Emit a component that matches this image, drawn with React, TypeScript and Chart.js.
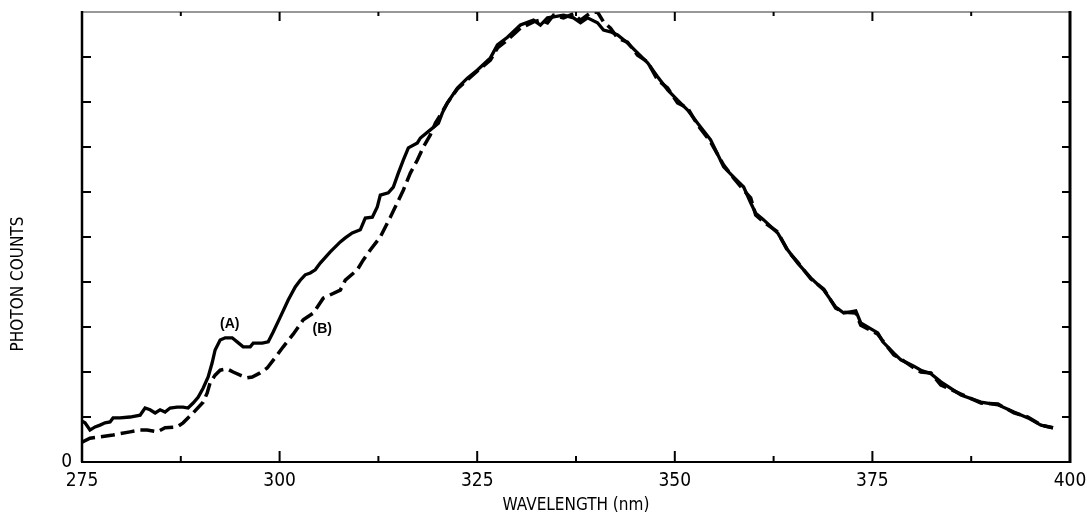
import React, { useEffect, useRef } from 'react';
import { Chart, registerables } from 'chart.js';

Chart.register(...registerables);

// Curve (A) – solid
const wavelengthA = [
  275.0, 275.38, 276.01, 276.65, 277.28, 277.91, 278.55, 278.93, 279.81, 281.08,
  282.35, 282.98, 283.61, 284.25, 284.88, 285.51, 286.14, 287.03, 287.79, 288.42,
  289.06, 289.69, 290.32, 290.96, 291.46, 291.84, 292.48, 293.11, 294.0, 294.63,
  295.39, 296.28, 296.66, 297.8, 298.56, 299.19, 300.08, 301.09, 301.98, 302.61,
  303.24, 303.88, 304.51, 305.14, 306.41, 307.68, 308.31, 309.19, 310.21, 310.84,
  311.73, 312.36, 312.74, 313.75, 314.39, 315.02, 315.65, 316.29, 317.43, 317.81,
  319.07, 320.09, 320.59, 321.23, 322.49, 323.76, 325.03, 326.67, 327.56, 328.83,
  330.47, 332.12, 333.0, 333.89, 334.65, 335.92, 337.18, 338.07, 338.96, 340.22,
  340.98, 341.87, 342.76, 344.02, 345.29, 346.56, 347.82, 349.09, 350.35, 351.62,
  352.89, 354.53, 356.18, 357.45, 358.71, 359.6, 360.23, 361.25, 363.02, 364.29,
  365.55, 367.2, 368.85, 370.36, 371.38, 372.9, 373.53, 375.68, 376.32, 377.71,
  378.6, 380.24, 381.13, 382.4, 383.66, 386.2, 388.73, 390.88, 392.91, 394.68,
  396.33, 397.85,
];
const countsA = [
  0.91, 0.87, 0.71, 0.78, 0.82, 0.87, 0.89, 0.98, 0.98, 1.0,
  1.04, 1.2, 1.16, 1.09, 1.16, 1.11, 1.2, 1.22, 1.22, 1.2,
  1.31, 1.44, 1.64, 1.89, 2.2, 2.49, 2.71, 2.76, 2.76, 2.67,
  2.56, 2.56, 2.64, 2.64, 2.67, 2.89, 3.22, 3.6, 3.89, 4.04,
  4.16, 4.2, 4.27, 4.42, 4.67, 4.89, 4.98, 5.09, 5.16, 5.42,
  5.44, 5.67, 5.93, 5.98, 6.11, 6.42, 6.71, 6.98, 7.09, 7.2,
  7.38, 7.53, 7.76, 7.98, 8.31, 8.53, 8.71, 8.98, 9.27, 9.44,
  9.71, 9.82, 9.71, 9.87, 9.89, 9.93, 9.87, 9.76, 9.87, 9.76,
  9.6, 9.56, 9.49, 9.31, 9.09, 8.87, 8.56, 8.27, 8.04, 7.82,
  7.53, 7.16, 6.56, 6.33, 6.11, 5.76, 5.53, 5.38, 5.09, 4.71,
  4.42, 4.09, 3.82, 3.44, 3.31, 3.36, 3.09, 2.87, 2.67, 2.42,
  2.27, 2.13, 2.04, 1.96, 1.78, 1.49, 1.33, 1.27, 1.11, 0.98,
  0.82, 0.76,
];

// Curve (B) – dashed
const wavelengthB = [
  275.0, 276.01, 277.28, 278.93, 281.08, 282.35, 283.23, 284.5, 285.51, 287.03,
  287.79, 289.06, 290.32, 290.83, 291.21, 291.84, 292.48, 293.36, 294.12, 295.01,
  295.9, 296.53, 297.54, 298.43, 299.7, 300.46, 301.72, 302.99, 304.26, 305.52,
  307.68, 308.31, 309.83, 310.59, 311.47, 312.74, 314.01, 314.89, 315.65, 316.54,
  317.43, 318.19, 319.07, 319.71, 320.34, 321.23, 322.49, 323.76, 325.03, 326.67,
  327.56, 328.83, 330.47, 332.12, 333.0, 333.89, 334.65, 335.92, 337.18, 338.07,
  339.33, 340.22, 340.98, 341.87, 342.76, 344.02, 345.29, 346.56, 347.82, 349.09,
  350.35, 351.62, 352.89, 354.53, 356.18, 357.45, 358.71, 359.6, 360.23, 361.25,
  363.02, 364.29, 365.55, 367.2, 368.85, 370.36, 371.38, 372.9, 373.53, 375.68,
  376.32, 377.71, 378.6, 380.24, 381.13, 382.4, 383.66, 386.2, 388.73, 390.88,
  392.91, 394.68, 396.33, 397.85,
];
const countsB = [
  0.44, 0.53, 0.56, 0.6, 0.67, 0.71, 0.71, 0.67, 0.76, 0.78,
  0.87, 1.09, 1.33, 1.53, 1.76, 1.93, 2.04, 2.07, 2.0, 1.93,
  1.87, 1.89, 1.98, 2.09, 2.38, 2.56, 2.84, 3.16, 3.31, 3.64,
  3.82, 4.04, 4.27, 4.49, 4.71, 5.0, 5.44, 5.76, 6.04, 6.42,
  6.71, 7.0, 7.27, 7.53, 7.71, 7.98, 8.29, 8.49, 8.69, 8.93,
  9.2, 9.38, 9.64, 9.78, 9.82, 9.76, 9.93, 9.87, 9.96, 9.82,
  9.98, 10.0, 9.78, 9.64, 9.42, 9.33, 9.04, 8.89, 8.49, 8.31,
  7.98, 7.87, 7.49, 7.11, 6.6, 6.31, 6.04, 5.87, 5.49, 5.33,
  5.11, 4.69, 4.44, 4.07, 3.84, 3.42, 3.33, 3.31, 3.04, 2.84,
  2.69, 2.38, 2.29, 2.09, 2.0, 1.98, 1.71, 1.51, 1.31, 1.29,
  1.09, 1.0, 0.82, 0.76,
];

const xMin = 275;
const xMax = 400;
const xTickStep = 12.5;
const xLabelEvery = 25;
const yMin = 0;
const yMax = 10;
const yTickStep = 1;
const yLabelValues = [0];

const labelA = { text: '(A)', x: 293.7, y: 3.07 };
const labelB = { text: '(B)', x: 305.4, y: 2.96 };

const xTitle = 'WAVELENGTH (nm)';
const yTitle = 'PHOTON COUNTS';

const NARROW = '"Liberation Sans Narrow", "DejaVu Sans Condensed", sans-serif';

const framePlugin = {
  id: 'frameTicks',
  afterDatasetsDraw(chart: any) {
    const { ctx, chartArea: a, scales } = chart;
    const xs = scales.x;
    const ys = scales.y;
    ctx.save();
    ctx.strokeStyle = '#000';
    ctx.fillStyle = '#000';
    ctx.lineCap = 'butt';

    // frame
    ctx.lineWidth = 1.2;
    ctx.strokeStyle = '#333';
    ctx.beginPath();
    ctx.moveTo(a.left, a.top);
    ctx.lineTo(a.right, a.top);
    ctx.stroke();
    ctx.strokeStyle = '#000';
    ctx.lineWidth = 2.5;
    ctx.beginPath();
    ctx.moveTo(a.left, a.top - 1);
    ctx.lineTo(a.left, a.bottom);
    ctx.stroke();
    ctx.lineWidth = 2;
    ctx.beginPath();
    ctx.moveTo(a.left - 1, a.bottom);
    ctx.lineTo(a.right + 1, a.bottom);
    ctx.stroke();
    ctx.lineWidth = 3;
    ctx.beginPath();
    ctx.moveTo(a.right, a.top - 1);
    ctx.lineTo(a.right, a.bottom + 1);
    ctx.stroke();

    // x ticks (inward)
    ctx.lineWidth = 2;
    xs.ticks.forEach((t: any) => {
      const px = xs.getPixelForValue(t.value);
      if (px <= a.left + 2 || px >= a.right - 2) return;
      const major = Math.abs(t.value % xLabelEvery) < 1e-6;
      ctx.beginPath();
      ctx.moveTo(px, a.bottom);
      ctx.lineTo(px, a.bottom - (major ? 11 : 6));
      ctx.moveTo(px, a.top);
      ctx.lineTo(px, a.top + (major ? 9 : 4));
      ctx.stroke();
    });
    // y ticks (inward)
    ys.ticks.forEach((t: any) => {
      const py = ys.getPixelForValue(t.value);
      if (py <= a.top + 2 || py >= a.bottom - 2) return;
      ctx.beginPath();
      ctx.moveTo(a.left, py);
      ctx.lineTo(a.left + 9, py);
      ctx.moveTo(a.right, py);
      ctx.lineTo(a.right - 8, py);
      ctx.stroke();
    });

    // curve labels
    ctx.font = 'bold 14px "Liberation Sans", Arial, sans-serif';
    ctx.textAlign = 'center';
    ctx.textBaseline = 'middle';
    [labelA, labelB].forEach((l) => {
      ctx.fillText(l.text, xs.getPixelForValue(l.x), ys.getPixelForValue(l.y));
    });

    // y title
    ctx.font = `17px ${NARROW}`;
    ctx.translate(19, 284);
    ctx.rotate(-Math.PI / 2);
    ctx.textAlign = 'center';
    ctx.textBaseline = 'middle';
    ctx.fillText(yTitle, 0, 0);
    ctx.restore();
  },
};

export default function App() {
  const ref = useRef<HTMLCanvasElement | null>(null);

  useEffect(() => {
    if (!ref.current) return;
    const dataA = wavelengthA.map((x, i) => ({ x, y: countsA[i] }));
    const dataB = wavelengthB.map((x, i) => ({ x, y: countsB[i] }));
    const chart = new Chart(ref.current, {
      type: 'line',
      data: {
        datasets: [
          {
            label: '(B)',
            data: dataB,
            borderColor: '#000',
            borderWidth: 3.5,
            borderDash: [14, 6],
            pointRadius: 0,
            tension: 0,
            fill: false,
          },
          {
            label: '(A)',
            data: dataA,
            borderColor: '#000',
            borderWidth: 3.3,
            pointRadius: 0,
            tension: 0,
            fill: false,
          },
        ],
      },
      options: {
        animation: false,
        responsive: false,
        maintainAspectRatio: false,
        events: [],
        layout: { padding: { top: 12, right: 17, left: 0, bottom: 0 } },
        plugins: {
          legend: { display: false },
          tooltip: { enabled: false },
        },
        scales: {
          x: {
            type: 'linear',
            min: xMin,
            max: xMax,
            grid: { display: false, drawTicks: false },
            border: { display: false },
            ticks: {
              stepSize: xTickStep,
              autoSkip: false,
              maxRotation: 0,
              padding: 8,
              color: '#000',
              font: { family: NARROW, size: 19 },
              callback: (v: any) =>
                Math.abs(Number(v) % xLabelEvery) < 1e-6 ? String(v) : '',
            },
            title: {
              display: true,
              text: xTitle,
              color: '#000',
              font: { family: NARROW, size: 17 },
              padding: { top: 0, bottom: 0 },
            },
            afterFit: (s: any) => {
              s.height = 54;
              s.paddingLeft = 0;
              s.paddingRight = 0;
            },
          },
          y: {
            type: 'linear',
            min: yMin,
            max: yMax,
            grid: { display: false, drawTicks: false },
            border: { display: false },
            ticks: {
              stepSize: yTickStep,
              padding: 10,
              color: '#000',
              font: { family: NARROW, size: 19 },
              callback: (v: any) => (yLabelValues.includes(Number(v)) ? String(v) : ''),
            },
            afterFit: (s: any) => {
              s.width = 82;
              s.paddingTop = 0;
              s.paddingBottom = 0;
            },
          },
        },
      },
      plugins: [framePlugin],
    });
    return () => chart.destroy();
  }, []);

  return (
    <div style={{ position: 'fixed', left: 0, top: 0, width: 1087, height: 516, background: '#fff' }}>
      <canvas ref={ref} width={1087} height={516} style={{ display: 'block' }} />
    </div>
  );
}
